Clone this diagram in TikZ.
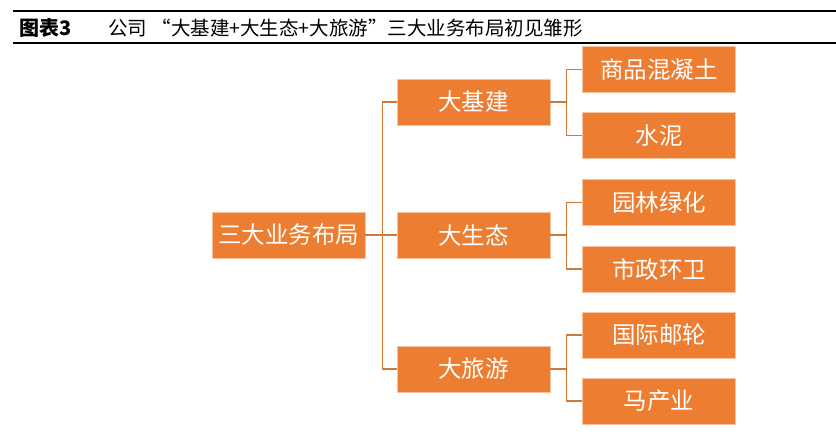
\documentclass[tikz,border=0pt]{standalone}
\usepackage{fontspec}
\newfontfamily\cjk{Noto Sans CJK SC}
\definecolor{boxfill}{HTML}{ED7D31}
\definecolor{boxline}{HTML}{F6C4A0}
\definecolor{connc}{HTML}{D2763A}
\begin{document}
\begin{tikzpicture}[x=1pt,y=-1pt,
  bx/.style={fill=boxfill,draw=boxline,line width=0.8pt,minimum width=153pt,minimum height=46pt,inner sep=0pt,text=white,font=\cjk\fontsize{23.5}{23.5}\selectfont},
  conn/.style={draw=connc,line width=1.2pt},
  titletext/.style={anchor=west,inner sep=0pt,font=\cjk\fontsize{19.5}{19.5}\selectfont}]
\useasboundingbox (0,0) rectangle (836,442);
\fill[white] (0,0) rectangle (836,442);
\draw[line width=1.4pt] (13,11) -- (836,11);
\draw[line width=1.4pt] (13,43) -- (836,43);
\node[titletext,font=\cjk\bfseries\fontsize{20}{20}\selectfont] (t1) at (19,28) {图表3};
\node[titletext] (t2) at (108,28) {公司 “大基建+大生态+大旅游”三大业务布局初见雏形};
\node[bx] (root) at (288.5,235) {三大业务布局};
\node[bx] (a) at (473.5,102) {大基建};
\node[bx] (b) at (473.5,235) {大生态};
\node[bx] (c) at (473.5,369) {大旅游};
\node[bx] (a1) at (659,69.5) {商品混凝土};
\node[bx] (a2) at (659,135.5) {水泥};
\node[bx] (b1) at (659,202.5) {园林绿化};
\node[bx] (b2) at (659,269) {市政环卫};
\node[bx] (c1) at (659,335) {国际邮轮};
\node[bx] (c2) at (659,401) {马产业};
\foreach \t in {a,b,c}{
  \draw[conn] (root.east) -- ([xshift=17pt]root.east) |- (\t.west);
}
\foreach \s/\t in {a/a1,a/a2,b/b1,b/b2,c/c1,c/c2}{
  \draw[conn] (\s.east) -- ([xshift=16pt]\s.east) |- (\t.west);
}
\end{tikzpicture}
\end{document}
